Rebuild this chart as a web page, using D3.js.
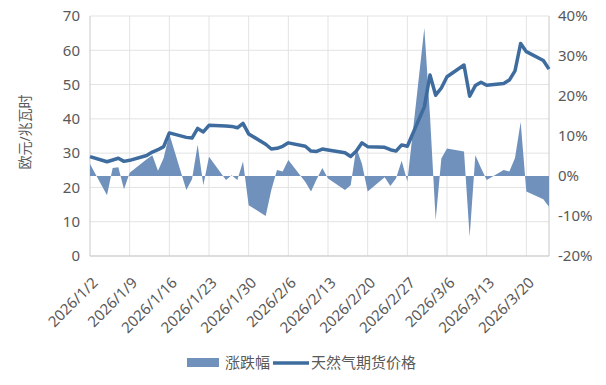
<!DOCTYPE html>
<html>
<head>
<meta charset="utf-8">
<script src="https://cdn.jsdelivr.net/npm/d3@7"></script>
<style>
  body { margin: 0; background: #fff; }
  text { font-family: "Noto Sans", "Noto Sans CJK SC", sans-serif; fill: #595959; }
</style>
</head>
<body>
<script>
// trading days, 2026
var dates = [
  "2026-01-02",
  "2026-01-05","2026-01-06","2026-01-07","2026-01-08","2026-01-09",
  "2026-01-12","2026-01-13","2026-01-14","2026-01-15","2026-01-16",
  "2026-01-19","2026-01-20","2026-01-21","2026-01-22","2026-01-23",
  "2026-01-26","2026-01-27","2026-01-28","2026-01-29","2026-01-30",
  "2026-02-02","2026-02-03","2026-02-04","2026-02-05","2026-02-06",
  "2026-02-09","2026-02-10","2026-02-11","2026-02-12","2026-02-13",
  "2026-02-16","2026-02-17","2026-02-18","2026-02-19","2026-02-20",
  "2026-02-23","2026-02-24","2026-02-25","2026-02-26","2026-02-27",
  "2026-03-02","2026-03-03","2026-03-04","2026-03-05","2026-03-06",
  "2026-03-09","2026-03-10","2026-03-11","2026-03-12","2026-03-13",
  "2026-03-16","2026-03-17","2026-03-18","2026-03-19","2026-03-20",
  "2026-03-23","2026-03-24"
]

// 天然气期货价格 (欧元/兆瓦时)
var price = [
  29.0,
  27.5, 28.0, 28.5, 27.6, 27.9,
  29.3, 30.3, 31.0, 31.9, 35.9,
  34.6, 34.4, 37.2, 36.2, 38.1,
  37.9, 37.8, 37.4, 38.7, 35.6,
  32.6, 31.2, 31.4, 32.0, 33.0,
  32.0, 30.6, 30.5, 31.2, 30.9,
  30.1, 29.0, 30.6, 33.0, 31.9,
  31.7, 31.0, 30.6, 32.4, 32.0,
  43.5, 52.8, 46.9, 49.0, 52.3,
  55.7, 46.6, 49.7, 50.7, 49.8,
  50.3, 51.3, 54.0, 62.0, 59.6,
  57.0, 54.5
]

// 涨跌幅 (%)
var change = [
  3.0,
  -4.8, 2.0, 2.2, -3.3, 0.8,
  4.2, 5.2, 1.3, 4.5, 10.5,
  -3.5, -0.8, 7.8, -2.3, 4.8,
  -1.0, 0.2, -1.0, 3.6, -7.3,
  -10.0, -3.5, 1.5, 1.1, 4.0,
  -1.5, -3.9, -0.8, 2.0, -0.6,
  -3.5, -2.3, 7.0, 3.0, -3.9,
  -0.3, -2.5, -0.6, 3.8, -1.4,
  37.0, 15.0, -11.0, 4.4, 6.9,
  6.1, -15.2, 5.2, 2.0, -1.0,
  1.5, 1.1, 4.5, 13.5, -3.9,
  -5.8, -7.7
]

var tickDates = ["2026-01-02","2026-01-09","2026-01-16","2026-01-23","2026-01-30",
  "2026-02-06","2026-02-13","2026-02-20","2026-02-27","2026-03-06","2026-03-13","2026-03-20"]
var leftTicks = [0, 10, 20, 30, 40, 50, 60, 70]
var rightTicks = [-20, -10, 0, 10, 20, 30, 40]

var parse = d3.timeParse("%Y-%m-%d")
var fmt = d3.timeFormat("%Y/%-m/%-d")

var data = dates.map(function (d, i) {
  return { date: parse(d), price: price[i], change: change[i] }
})

var W = 606, H = 385
// plot box (don't call these top/left: window.top is taken)
var pL = 90, pR = 549, pT = 16, pB = 256

var svg = d3.select("body")
  .append("svg")
  .attr("width", W)
  .attr("height", H)

var x = d3.scaleTime()
  .domain([parse(dates[0]), parse(dates[dates.length - 1])])
  .range([pL, pR])

var y = d3.scaleLinear().domain([0, 70]).range([pB, pT])
var y2 = d3.scaleLinear().domain([-20, 40]).range([pB, pT])

// grid
svg.append("g")
  .selectAll("line")
  .data(leftTicks)
  .enter()
  .append("line")
  .attr("x1", pL).attr("x2", pR)
  .attr("y1", function (d) { return y(d) })
  .attr("y2", function (d) { return y(d) })
  .attr("stroke", "#e3e3e3")

svg.append("g")
  .selectAll("line")
  .data(tickDates.slice(1))
  .enter()
  .append("line")
  .attr("x1", function (d) { return x(parse(d)) })
  .attr("x2", function (d) { return x(parse(d)) })
  .attr("y1", pT).attr("y2", pB)
  .attr("stroke", "#e3e3e3")

// axis lines
svg.append("line").attr("x1", pL).attr("x2", pL).attr("y1", pT).attr("y2", pB).attr("stroke", "#c9c9c9")
svg.append("line").attr("x1", pR).attr("x2", pR).attr("y1", pT).attr("y2", pB).attr("stroke", "#c9c9c9")
svg.append("line").attr("x1", pL).attr("x2", pR).attr("y1", pB).attr("y2", pB).attr("stroke", "#c9c9c9")

// 涨跌幅 area
var area = d3.area()
  .x(function (d) { return x(d.date) })
  .y0(y2(0))
  .y1(function (d) { return y2(d.change) })

svg.append("path")
  .datum(data)
  .attr("d", area)
  .attr("fill", "#6f91bb")

// price line
var line = d3.line()
  .x(function (d) { return x(d.date) })
  .y(function (d) { return y(d.price) })

svg.append("path")
  .datum(data)
  .attr("d", line)
  .attr("fill", "none")
  .attr("stroke", "#3e6c9e")
  .attr("stroke-width", 3.5)
  .attr("stroke-linejoin", "round")

// left axis labels
svg.append("g")
  .selectAll("text")
  .data(leftTicks)
  .enter()
  .append("text")
  .attr("x", 80)
  .attr("y", function (d) { return y(d) })
  .attr("dy", "0.35em")
  .attr("text-anchor", "end")
  .style("font-size", "15px")
  .text(function (d) { return d })

// right axis labels
svg.append("g")
  .selectAll("text")
  .data(rightTicks)
  .enter()
  .append("text")
  .attr("x", 558)
  .attr("y", function (d) { return y2(d) })
  .attr("dy", "0.35em")
  .attr("text-anchor", "start")
  .style("font-size", "15px")
  .text(function (d) { return d + "%" })

// x labels, rotated
svg.append("g")
  .selectAll("text")
  .data(tickDates)
  .enter()
  .append("text")
  .attr("transform", function (d) {
    return "translate(" + (x(parse(d)) + 5) + "," + 280 + ") rotate(-45)"
  })
  .attr("text-anchor", "end")
  .attr("dy", "0.35em")
  .style("font-size", "15px")
  .text(function (d) { return fmt(parse(d)) })

// y title
svg.append("text")
  .attr("transform", "translate(25,132) rotate(-90)")
  .attr("text-anchor", "middle")
  .attr("dy", "0.35em")
  .style("font-size", "14px")
  .text("欧元/兆瓦时")

// legend
var lg = svg.append("g")
lg.append("rect").attr("x", 187).attr("y", 358).attr("width", 32).attr("height", 9).attr("fill", "#6f91bb")
lg.append("text").attr("x", 225).attr("y", 363).attr("dy", "0.35em").style("font-size", "15px").text("涨跌幅")
lg.append("line").attr("x1", 273).attr("x2", 309).attr("y1", 363).attr("y2", 363)
  .attr("stroke", "#3e6c9e").attr("stroke-width", 3.5)
lg.append("text").attr("x", 311).attr("y", 363).attr("dy", "0.35em").style("font-size", "15px").text("天然气期货价格")
</script>
</body>
</html>
